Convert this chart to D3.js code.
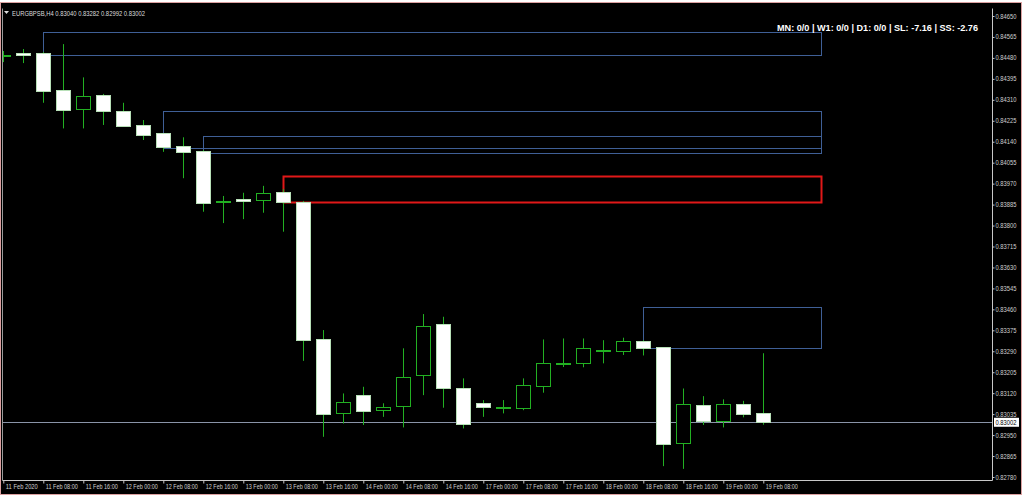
<!DOCTYPE html>
<html>
<head>
<meta charset="utf-8">
<script src="https://cdn.jsdelivr.net/npm/d3@7"></script>
<style>
  html, body { margin: 0; padding: 0; background: #ffffff; }
  svg { display: block; }
  text { font-family: "Liberation Sans", Arial, sans-serif; }
</style>
</head>
<body>
<svg id="chart" width="1024" height="498"></svg>
<script>
// ---------------- DATA ----------------
const symbolTitle = "EURGBPSB,H4";
const titleValues = ["0.83040", "0.83282", "0.82992", "0.83002"];
const statusText = "MN: 0/0 | W1: 0/0 | D1: 0/0 | SL: -7.16 | SS: -2.76";

// OHLC per H4 bar (index 0 = 11 Feb 2020 00:00)
const opens  = [0.84488,0.84500,0.84499,0.84350,0.84274,0.84330,0.84266,0.84208,0.84174,0.84123,
                0.84102,0.83895,0.83906,0.83903,0.83936,0.83897,0.83338,0.83038,0.83112,0.83050,
                0.83068,0.83195,0.83400,0.83142,0.83079,0.83062,0.83057,0.83150,0.83242,0.83241,
                0.83292,0.83290,0.83333,0.83306,0.82916,0.83072,0.83007,0.83075,0.83040];
const highs  = [0.84508,0.84516,0.84504,0.84536,0.84401,0.84334,0.84298,0.84228,0.84175,0.84158,
                0.84106,0.83920,0.83933,0.83961,0.83948,0.83900,0.83376,0.83119,0.83146,0.83079,
                0.83302,0.83441,0.83430,0.83180,0.83092,0.83092,0.83180,0.83338,0.83342,0.83342,
                0.83335,0.83345,0.83335,0.83307,0.83139,0.83108,0.83095,0.83089,0.83282];
const lows   = [0.84463,0.84459,0.84298,0.84194,0.84194,0.84208,0.84200,0.84147,0.84099,0.83992,
                0.83856,0.83810,0.83826,0.83852,0.83775,0.83251,0.82943,0.82997,0.82991,0.83024,
                0.82981,0.83112,0.83061,0.82977,0.83024,0.83038,0.83051,0.83122,0.83226,0.83225,
                0.83241,0.83275,0.83273,0.82824,0.82813,0.82991,0.82981,0.83022,0.82992];
const closes = [0.84492,0.84492,0.84344,0.84269,0.84325,0.84266,0.84204,0.84167,0.84116,0.84097,
                0.83893,0.83898,0.83899,0.83933,0.83897,0.83338,0.83034,0.83084,0.83047,0.83064,
                0.83187,0.83392,0.83142,0.82997,0.83062,0.83064,0.83152,0.83243,0.83244,0.83302,
                0.83295,0.83331,0.83306,0.82914,0.83075,0.83007,0.83075,0.83035,0.83002];

// time axis labels (every 2nd bar)
const timeLabels = ["11 Feb 2020","11 Feb 08:00","11 Feb 16:00","12 Feb 00:00","12 Feb 08:00",
                    "12 Feb 16:00","13 Feb 00:00","13 Feb 08:00","13 Feb 16:00","14 Feb 00:00",
                    "14 Feb 08:00","14 Feb 16:00","17 Feb 00:00","17 Feb 08:00","17 Feb 16:00",
                    "18 Feb 00:00","18 Feb 08:00","18 Feb 16:00","19 Feb 00:00","19 Feb 08:00"];
const timeLabelBars = [0,2,4,6,8,10,12,14,16,18,20,22,24,26,28,30,32,34,36,38];

// price axis tick labels
const priceTicks = ["0.82780","0.82865","0.82950","0.83035","0.83120","0.83205","0.83290","0.83375",
                    "0.83460","0.83545","0.83630","0.83715","0.83800","0.83885","0.83970","0.84055",
                    "0.84140","0.84225","0.84310","0.84395","0.84480","0.84565","0.84650"];

// zones (bar index start/end, price top/bottom, kind)
const zoneFrom  = [2, 8, 10, 14, 32];
const zoneTo    = [41, 41, 41, 41, 41];
const zoneHigh  = [0.84585, 0.84266, 0.84164, 0.84001, 0.83471];
const zoneLow   = [0.84492, 0.84117, 0.84097, 0.83894, 0.83304];
const zoneKind  = ["zone", "zone", "zone", "active", "zone"];

const currentPrice = 0.83002;

// ---------------- DRAW ----------------
const W = 1024, H = 498;
const plot = {left: 2.5, right: 992.5, top: 8.5, bottom: 480.5};
const svg = d3.select("#chart");

// outer frame
svg.append("rect").attr("x", 0).attr("y", 0).attr("width", W).attr("height", H).attr("fill", "#ffffff");
svg.append("rect").attr("x", 0).attr("y", 3).attr("width", 1021).attr("height", 491).attr("fill", "#000000");
svg.append("rect").attr("x", 0.5).attr("y", 2.5).attr("width", 1021).attr("height", 492)
   .attr("fill", "none").attr("stroke", "#dba0a0").attr("stroke-width", 1);

const x = d3.scaleLinear().domain([-0.05, 49.45]).range([2.3, 992.3]);
const y = d3.scaleLinear().domain([0.82780, 0.84650]).range([477, 16]);

svg.append("clipPath").attr("id", "plotclip").append("rect")
  .attr("x", plot.left).attr("y", plot.top)
  .attr("width", plot.right - plot.left).attr("height", plot.bottom - plot.top);

const g = svg.append("g").attr("clip-path", "url(#plotclip)");

// current price line
g.append("line")
  .attr("x1", plot.left).attr("x2", plot.right)
  .attr("y1", Math.round(y(currentPrice)) + 0.5).attr("y2", Math.round(y(currentPrice)) + 0.5)
  .attr("stroke", "#8a94a8").attr("stroke-width", 1);

// zones
const zoneStyle = {zone: {stroke: "#3f5f96", width: 1}, active: {stroke: "#e01818", width: 2}};
const zones = zoneFrom.map((f, i) => ({from: f, to: zoneTo[i], hi: zoneHigh[i], lo: zoneLow[i], kind: zoneKind[i]}));
g.selectAll("rect.zone").data(zones).enter().append("rect")
  .attr("class", "zone")
  .attr("x", d => Math.round(x(d.from)) + 0.5)
  .attr("y", d => Math.round(y(d.hi)) + 0.5)
  .attr("width", d => Math.round(x(d.to) - x(d.from)) - 2)
  .attr("height", d => Math.round(y(d.lo) - y(d.hi)))
  .attr("fill", "none")
  .attr("stroke", d => zoneStyle[d.kind].stroke)
  .attr("stroke-width", d => zoneStyle[d.kind].width);

// candles
const bars = opens.map((o, i) => ({i, o, h: highs[i], l: lows[i], c: closes[i]}));
const green = "#22b022";
const bodyW = 14;
const cg = g.append("g");
cg.selectAll("line.wick").data(bars).enter().append("line")
  .attr("class", "wick")
  .attr("x1", d => Math.round(x(d.i)) + 0.5).attr("x2", d => Math.round(x(d.i)) + 0.5)
  .attr("y1", d => y(d.h)).attr("y2", d => y(d.l))
  .attr("stroke", green).attr("stroke-width", 1);
cg.selectAll("rect.body").data(bars).enter().append("rect")
  .attr("class", "body")
  .attr("x", d => Math.round(x(d.i)) - bodyW / 2 + 0.5)
  .attr("y", d => Math.round(y(Math.max(d.o, d.c))) + 0.5)
  .attr("width", bodyW)
  .attr("height", d => Math.max(1, Math.round(Math.abs(y(d.o) - y(d.c)))))
  .attr("fill", d => d.c > d.o ? "#000000" : "#ffffff")
  .attr("stroke", d => d.c > d.o ? green : "#b8e0b8")
  .attr("stroke-width", 1);

// frame lines
svg.append("line").attr("x1", plot.left).attr("x2", plot.left).attr("y1", plot.top).attr("y2", plot.bottom)
  .attr("stroke", "#9a9a9a");
svg.append("line").attr("x1", plot.right).attr("x2", plot.right).attr("y1", plot.top).attr("y2", plot.bottom)
  .attr("stroke", "#c8c8c8");
svg.append("line").attr("x1", plot.left).attr("x2", plot.right).attr("y1", plot.bottom).attr("y2", plot.bottom)
  .attr("stroke", "#c8c8c8");

// price axis
const yAxis = d3.axisRight(y)
  .tickValues(priceTicks.map(Number))
  .tickFormat((d, i) => priceTicks[i])
  .tickSize(2).tickPadding(1);
const ya = svg.append("g").attr("transform", `translate(${plot.right},0)`).call(yAxis);
ya.select(".domain").remove();
ya.selectAll(".tick line").attr("stroke", "#c8c8c8");
ya.selectAll(".tick text").attr("fill", "#cfcfcf").attr("font-size", "6.3px")
  .attr("textLength", 21).attr("lengthAdjust", "spacingAndGlyphs");

// current price label
const cpY = y(currentPrice);
svg.append("rect").attr("x", 994).attr("y", cpY - 4.5).attr("width", 25).attr("height", 9)
  .attr("fill", "#ffffff");
svg.append("text").attr("x", 995.5).attr("y", cpY + 2.3).attr("fill", "#000000")
  .attr("font-size", "6.3px").attr("textLength", 21).attr("lengthAdjust", "spacingAndGlyphs")
  .text(currentPrice.toFixed(5));

// time axis
const xAxis = d3.axisBottom(x)
  .tickValues(timeLabelBars)
  .tickFormat((d, i) => timeLabels[i])
  .tickSize(3).tickPadding(2);
const xa = svg.append("g").attr("transform", `translate(0,${plot.bottom})`).call(xAxis);
xa.select(".domain").remove();
xa.selectAll(".tick line").attr("stroke", "#c8c8c8");
xa.selectAll(".tick text").attr("fill", "#cfcfcf").attr("font-size", "6.3px")
  .attr("text-anchor", "start").attr("dx", 2).attr("dy", "0.5em")
  .attr("textLength", 32).attr("lengthAdjust", "spacingAndGlyphs");

// title
svg.append("path").attr("d", "M4,11 L9,11 L6.5,14 Z").attr("fill", "#dcdcdc");
svg.append("text").attr("x", 12).attr("y", 16).attr("fill", "#dcdcdc").attr("font-size", "6.3px")
  .attr("textLength", 133).attr("lengthAdjust", "spacingAndGlyphs")
  .text(symbolTitle + "  " + titleValues.join(" "));

// status text
svg.append("text").attr("x", 978).attr("y", 31).attr("text-anchor", "end")
  .attr("fill", "#ffffff").attr("font-size", "9px").attr("font-weight", "bold")
  .attr("textLength", 201).attr("lengthAdjust", "spacingAndGlyphs")
  .text(statusText);
</script>
</body>
</html>
